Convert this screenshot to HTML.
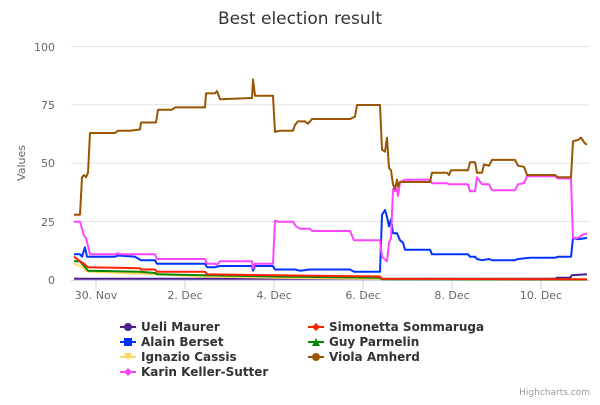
<!DOCTYPE html>
<html><head><meta charset="utf-8"><style>
body{margin:0;background:#fff;}
svg text{font-family:"DejaVu Sans","Liberation Sans",sans-serif;}
</style></head><body>
<svg id="c" width="600" height="400" xmlns="http://www.w3.org/2000/svg">
<text x="300" y="24" text-anchor="middle" font-size="17" fill="#333">Best election result</text>
<g stroke="#e6e6e6" stroke-width="1">
<line x1="71" x2="590" y1="46.5" y2="46.5"/><line x1="71" x2="590" y1="104.8" y2="104.8"/>
<line x1="71" x2="590" y1="163.2" y2="163.2"/><line x1="71" x2="590" y1="221.5" y2="221.5"/>
</g>
<line x1="71" x2="590" y1="280.5" y2="280.5" stroke="#ccd6eb"/>
<g stroke="#ccd6eb"><line x1="96" x2="96" y1="280" y2="290"/><line x1="185" x2="185" y1="280" y2="290"/><line x1="274" x2="274" y1="280" y2="290"/><line x1="363" x2="363" y1="280" y2="290"/><line x1="452" x2="452" y1="280" y2="290"/><line x1="541" x2="541" y1="280" y2="290"/></g>
<g font-size="11" fill="#666" text-anchor="end">
<text x="55" y="51">100</text><text x="55" y="109">75</text><text x="55" y="167">50</text><text x="55" y="226">25</text><text x="55" y="284">0</text>
</g>
<g font-size="11" fill="#666" text-anchor="middle">
<text x="96" y="299">30. Nov</text><text x="185" y="299">2. Dec</text><text x="274" y="299">4. Dec</text><text x="363" y="299">6. Dec</text><text x="452" y="299">8. Dec</text><text x="541" y="299">10. Dec</text>
</g>
<text transform="translate(25,163) rotate(-90)" text-anchor="middle" font-size="11" fill="#666">Values</text>
<g id="series"></g>
<g font-size="12" font-weight="bold" fill="#333">
<line x1="120" x2="136" y1="327" y2="327" stroke="#4b1f8c" stroke-width="2"/><circle cx="128" cy="327" r="4" fill="#4b1f8c"/><text x="141" y="331">Ueli Maurer</text>
<line x1="308" x2="324" y1="327" y2="327" stroke="#ff2200" stroke-width="2"/><path d="M316 323 L320 327 L316 331 L312 327Z" fill="#ff2200"/><text x="329" y="331">Simonetta Sommaruga</text>
<line x1="120" x2="136" y1="342" y2="342" stroke="#0033ff" stroke-width="2"/><rect x="124" y="338" width="8" height="8" fill="#0033ff"/><text x="141" y="346">Alain Berset</text>
<line x1="308" x2="324" y1="342" y2="342" stroke="#008800" stroke-width="2"/><path d="M316 338 L320 346 L312 346Z" fill="#008800"/><text x="329" y="346">Guy Parmelin</text>
<line x1="120" x2="136" y1="357" y2="357" stroke="#ffd966" stroke-width="2"/><path d="M124 353 L132 353 L128 361Z" fill="#ffd966"/><text x="141" y="361">Ignazio Cassis</text>
<line x1="308" x2="324" y1="357" y2="357" stroke="#995500" stroke-width="2"/><circle cx="316" cy="357" r="4" fill="#995500"/><text x="329" y="361">Viola Amherd</text>
<line x1="120" x2="136" y1="372" y2="372" stroke="#ff44ff" stroke-width="2"/><path d="M128 368 L132 372 L128 376 L124 372Z" fill="#ff44ff"/><text x="141" y="376">Karin Keller-Sutter</text>
</g>
<text x="590" y="395" text-anchor="end" font-size="9" fill="#999">Highcharts.com</text>
</svg>
<script>
var S=[
["#4b1f8c",[74,0.5,555,0.5,557,1,570,1,572,2,587,2.5]],
["#ffd966",[74,7,80,6,84,5,88,3.5,155,2.5,205,1.5,275,1,380,0.5,587,0.1]],
["#008800",[74,8,80,8,84,6,88,4,140,3.5,155,3,157,2.5,205,2,275,1.5,380,1,382,0.3,587,0.2]],
["#ff2200",[74,10,80,8,84,7,88,5.5,140,5,141,4.5,155,4.5,157,3.5,205,3.5,207,2.5,275,2,380,1.5,382,0.5,587,0.3]],
["#0033ff",[74,11,80,11,82,10,85,14,87,10,115,10,118,10.5,135,10,141,8.5,155,8.5,157,7,205,7,207,5.5,215,5.5,220,6,252,6,253,4,255,6,273,6,275,4.5,295,4.5,300,4,310,4.5,350,4.5,354,3.5,380,3.5,382,28,385,30,387,27,389,23,391,26,393,20,397,20,400,17,403,16,405,13,430,13,432,11,468,11,470,10,475,10,477,9,482,8.5,489,9,492,8.5,515,8.5,518,9,530,9.5,555,9.5,558,10,571,10,573,18,578,17.5,587,18]],
["#ff44ff",[74,25,80,25,84,19,86,18,90,11,115,11,118,11.5,120,11,155,11,157,9,205,9,207,7,215,7,217,6.5,220,8,252,8,253,5,255,7,273,7,275,25.5,278,25,293,25,296,23,300,22,310,22,312,21,350,21,354,17,380,17,382,10,387,8,389,16,391,18,393,39,395,38,397,39,398,36,400,42,405,43,430,43,432,41.5,447,41.5,449,41,468,41,470,38,475,38,477,44,482,41,489,41,492,38.5,515,38.5,518,41,524,41.5,527,44.5,555,44.5,558,43.5,571,43.5,573,18,578,18,583,19.5,587,20]],
["#995500",[74,28,80,28,82,44,84,45,86,44,88,46,90,63,100,63,115,63,118,64,130,64,140,64.5,141,67.5,156,67.5,158,73,172,73,175,74,205,74,206,80,215,80,217,81,220,77.5,252,78,253,86,255,79,273,79,275,63.5,280,64,293,64,295,66.5,298,68,305,68,308,67,312,69,350,69,355,70,357,75,380,75,382,56,385,55,387,61,389,48,391,47,393,41,395,39,397,43,398,40,400,42,405,42,430,42,432,46,447,46,449,45,451,47,468,47,470,50.5,475,50.5,477,46,482,46,484,49.5,489,49,492,51.5,515,51.5,518,49,524,48.5,527,45,555,45,558,44,571,44,573,59.5,578,60,581,61,585,58.5,587,58]]];
var g=document.getElementById("series"),h="";
S.forEach(function(s){var p=[];for(var i=0;i<s[1].length;i+=2)p.push(s[1][i]+","+(280-2.333*s[1][i+1]).toFixed(1));
h+='<polyline fill="none" stroke="'+s[0]+'" stroke-width="2" stroke-linejoin="round" points="'+p.join(" ")+'"/>';});
g.innerHTML=h;
</script>
</body></html>
